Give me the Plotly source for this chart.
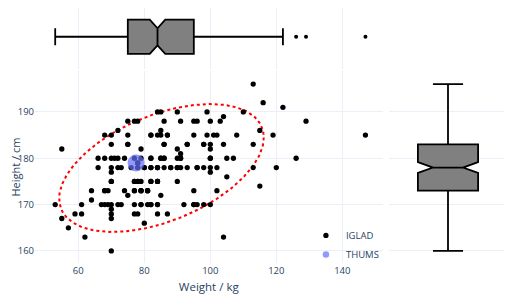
import numpy as np
import plotly.graph_objects as go

# IGLAD data (weight kg, height cm);
# the last block holds points that overlap visible ones (integer-valued data)
iglad_weight = [
    113, 116, 122,
    84, 85, 90, 99, 110,
    104,
    75, 77, 78, 86, 91, 95, 96, 100, 103, 129,
    72, 85, 115,
    68, 70, 75, 82, 84, 85, 87, 95, 99, 101, 102, 108, 119, 147,
    70, 75, 86, 93, 98, 100, 104, 113,
    55, 79, 90, 100,
    91,
    66, 68, 70, 71, 72, 74, 82, 85, 86, 90, 91, 100, 105, 107, 126,
    78,
    66, 70, 72, 73, 76, 78, 80, 82, 84, 86, 88, 90, 91, 93, 96, 98, 100, 102, 113, 120,
    70, 100,
    105,
    70, 77, 78, 79, 82, 84, 90, 70, 77,
    115,
    64, 68, 69, 74, 77, 79, 81, 95, 102, 68, 79,
    75, 85,
    64,
    53, 61, 67, 68, 69, 70, 72, 73, 77, 79, 81, 82, 84, 92, 95, 96, 98, 100,
    70,
    59, 61, 70, 77, 78, 84, 87,
    55, 70,
    80,
    57,
    62, 104,
    70,
    # overlapping points
    84, 79, 82, 95,
    77, 79, 81, 81,
    84, 78, 82, 84,
    84, 78, 80, 82, 84, 96, 88, 90,
    82, 77, 79, 78, 85, 86, 100, 91,
    75, 86, 93, 98,
    82, 87,
]
iglad_height = [
    196, 192, 191,
    190, 190, 190, 190, 190,
    189,
    188, 188, 188, 188, 188, 188, 188, 188, 188, 188,
    186, 186, 186,
    185, 185, 185, 185, 185, 185, 185, 185, 185, 185, 185, 185, 185, 185,
    183, 183, 183, 183, 183, 183, 183, 183,
    182, 182, 182, 182,
    181,
    180, 180, 180, 180, 180, 180, 180, 180, 180, 180, 180, 180, 180, 180, 180,
    179,
    178, 178, 178, 178, 178, 178, 178, 178, 178, 178, 178, 178, 178, 178, 178, 178, 178, 178, 178, 178,
    177, 177,
    176,
    175, 175, 175, 175, 175, 175, 175, 175, 175,
    174,
    173, 173, 173, 173, 173, 173, 173, 173, 173, 173, 173,
    172, 172,
    171,
    170, 170, 170, 170, 170, 170, 170, 170, 170, 170, 170, 170, 170, 170, 170, 170, 170, 170,
    169,
    168, 168, 168, 168, 168, 168, 168,
    167, 167,
    166,
    165,
    163, 163,
    160,
    # overlapping points
    170, 170, 170, 170,
    173, 173, 173, 173,
    175, 175, 175, 175,
    178, 178, 178, 178, 178, 178, 178, 178,
    180, 180, 180, 179, 180, 180, 180, 180,
    183, 183, 183, 183,
    185, 185,
]

thums_weight = [77.5]
thums_height = [179]

# confidence ellipse parameters (data units)
ellipse_center = (85.2, 177.9)
ellipse_semi = (31.0, 13.8)
ellipse_phase_deg = 61.5

x_ticks = [60, 80, 100, 120, 140]
y_ticks = [160, 170, 180, 190]

t = np.linspace(0, 2 * np.pi, 240)
ph = np.deg2rad(ellipse_phase_deg)
ex = ellipse_center[0] + ellipse_semi[0] * np.cos(t)
ey = ellipse_center[1] + ellipse_semi[1] * np.cos(t + ph)

thums_color = '#636efa'

fig = go.Figure()
fig.add_trace(go.Scatter(x=ex, y=ey, mode='lines',
                         line=dict(color='red', dash='dot', width=2),
                         showlegend=False, hoverinfo='skip'))
fig.add_trace(go.Scatter(x=iglad_weight, y=iglad_height, mode='markers',
                         marker=dict(color='black', size=5.3), name='IGLAD'))
fig.add_trace(go.Scatter(x=thums_weight, y=thums_height, mode='markers',
                         marker=dict(color=thums_color, size=17, opacity=0.7),
                         name='THUMS', showlegend=False))
# legend entry for THUMS with a small symbol, as in the reference
fig.add_trace(go.Scatter(x=[None], y=[None], mode='markers',
                         marker=dict(color=thums_color, size=6.5, opacity=0.7),
                         name='THUMS'))

box_style = dict(notched=True, fillcolor='gray', line=dict(color='black', width=1.8),
                 marker=dict(color='black', size=4), boxpoints='outliers', showlegend=False)
fig.add_trace(go.Box(x=iglad_weight, y0=0, xaxis='x', yaxis='y3', width=0.557,
                     orientation='h', **box_style))
fig.add_trace(go.Box(y=iglad_height, x0=0, xaxis='x2', yaxis='y', width=0.51,
                     orientation='v', **box_style))

axis_font = dict(size=9.5)
fig.update_layout(
    template='plotly_white',
    width=504, height=287,
    margin=dict(l=27, r=5, t=0, b=32),
    font=dict(family='"Open Sans", verdana, arial, sans-serif'),
    xaxis=dict(domain=[0, 0.7363], range=[46.88, 152.18], anchor='y',
               tickvals=x_ticks, tickfont=axis_font, zeroline=False,
               title=dict(text='Weight / kg', font=dict(size=11.5), standoff=7)),
    yaxis=dict(domain=[0, 0.752], range=[157.4, 198.78], anchor='x',
               tickvals=y_ticks, tickfont=axis_font, zeroline=False,
               title=dict(text='Height / cm', font=dict(size=11), standoff=0)),
    xaxis2=dict(domain=[0.75, 1], range=[-0.5, 0.5], anchor='y',
                showgrid=False, zeroline=False, showticklabels=False),
    yaxis3=dict(domain=[0.76, 1], range=[-0.53, 0.47], anchor='x',
                showgrid=False, zeroline=False, showticklabels=False),
    legend=dict(x=0.574, y=0.165, xanchor='left', yanchor='top',
                font=dict(size=9.5), bgcolor='rgba(0,0,0,0)', tracegroupgap=0),
)

fig.write_html("out.html")
